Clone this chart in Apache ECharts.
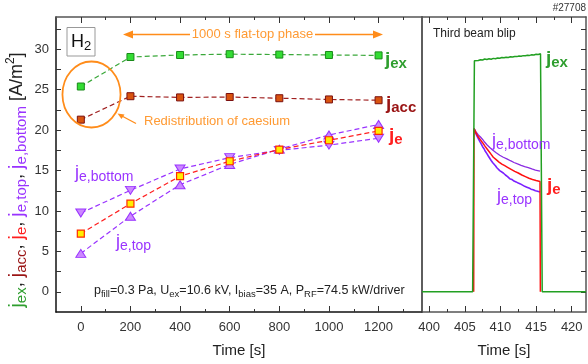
<!DOCTYPE html>
<html>
<head>
<meta charset="utf-8">
<script src="https://cdn.jsdelivr.net/npm/echarts@6/dist/echarts.min.js"></script>
<style>
  html, body { margin: 0; padding: 0; background: #fff; }
  #chart { width: 588px; height: 364px; }
</style>
</head>
<body>
<div id="chart"></div>
<script>
// left panel: 1000 s flat-top phase, one point every 200 s
const times = [0, 200, 400, 600, 800, 1000, 1200]
const jex = [25.4, 29.05, 29.3, 29.4, 29.35, 29.3, 29.25]
const jacc = [21.3, 24.2, 24.05, 24.1, 23.95, 23.8, 23.7]
const je = [7.2, 10.9, 14.3, 16.15, 17.6, 18.75, 19.9]
const jeTop = [4.75, 9.35, 13.25, 15.75, 17.65, 19.4, 20.7]
const jeBottom = [9.75, 12.55, 15.2, 16.6, 17.5, 18.15, 19.0]

// right panel: third beam blip, [time, value]
const blipJex = [[399, 0], [406.1, 0], [406.35, 28.6], [406.6, 28.7], [406.9, 28.62], [407.2, 28.72], [407.5, 28.68],
  [407.8, 28.8], [408.1, 28.74], [408.4, 28.83], [408.7, 28.78], [409, 28.88], [409.3, 28.84], [409.6, 28.93],
  [409.9, 28.9], [410.2, 28.98], [410.5, 28.95], [410.8, 29.03], [411.1, 29.0], [411.4, 29.08], [411.7, 29.05],
  [412, 29.12], [412.3, 29.1], [412.6, 29.17], [412.9, 29.14], [413.2, 29.22], [413.5, 29.2], [413.8, 29.27],
  [414.1, 29.25], [414.4, 29.33], [414.7, 29.3], [415, 29.38], [415.3, 29.36], [415.62, 29.45], [415.86, 0], [422, 0]]
const blipJe = [[406.25, 0], [406.3, 20.2], [406.6, 19.6], [406.9, 19.15], [407.2, 18.8], [407.5, 18.45], [407.8, 18.05],
  [408.1, 17.7], [408.4, 17.35], [408.7, 17.0], [409, 16.65], [409.4, 16.35], [409.8, 16.05], [410.2, 15.8], [410.6, 15.6],
  [411, 15.4], [411.5, 15.15], [412, 14.9], [412.5, 14.7], [413, 14.45], [413.5, 14.25], [414, 14.05], [414.5, 13.9],
  [415, 13.78], [415.55, 13.65], [415.6, 0]]
const blipJeTop = [[406.3, 20.2], [406.5, 19.7], [406.7, 19.3], [406.9, 18.95], [407.1, 18.6], [407.3, 18.3], [407.5, 17.95],
  [407.7, 17.7], [407.9, 17.35], [408.1, 17.1], [408.3, 16.8], [408.5, 16.6], [408.7, 16.25], [408.9, 16.0], [409.1, 15.8],
  [409.3, 15.6], [409.5, 15.35], [409.7, 15.25], [409.9, 15.0], [410.1, 14.9], [410.4, 14.7], [410.7, 14.45], [411, 14.25],
  [411.3, 14.0], [411.6, 13.9], [411.9, 13.7], [412.2, 13.6], [412.5, 13.45], [412.8, 13.35], [413.1, 13.2], [413.4, 13.05],
  [413.7, 12.95], [414, 12.85], [414.3, 12.7], [414.6, 12.62], [414.9, 12.5], [415.2, 12.45], [415.55, 12.35]]
const blipJeBottom = [[406.3, 20.2], [406.6, 19.75], [406.9, 19.4], [407.2, 19.15], [407.5, 18.85], [407.8, 18.5], [408.1, 18.2],
  [408.5, 17.85], [408.9, 17.55], [409.4, 17.2], [409.9, 16.9], [410.4, 16.65], [410.9, 16.45], [411.4, 16.22], [411.9, 16.0],
  [412.4, 15.82], [412.9, 15.65], [413.4, 15.5], [413.9, 15.37], [414.4, 15.2], [414.9, 15.05], [415.55, 14.92]]

// tick labels
const xTicksLeft = [0, 200, 400, 600, 800, 1000, 1200]
const xMinorLeft = [100, 300, 500, 700, 900, 1100, 1300]
const xTicksRight = [400, 405, 410, 415, 420]
const xMinorRight = [402.5, 407.5, 412.5, 417.5]
const yLabels = [0, 5, 10, 15, 20, 25, 30]
const yTicks = [0, 2.5, 5, 7.5, 10, 12.5, 15, 17.5, 20, 22.5, 25, 27.5, 30, 32.5]

const FONT = 'Liberation Sans, Arial, sans-serif'
const GREEN = '#2e9e2e', DARKRED = '#9a1414', RED = '#ff1f1f', PURPLE = '#9933ff', ORANGE = '#ff8c1a'
const FRAME = '#555'

const pairs = (ys) => times.map((t, i) => [t, ys[i]])

function xAx(grid, pos, min, max, ticks, len, labels, line) {
  return {
    type: 'value', gridIndex: grid, position: pos, min, max,
    axisLine: { show: line, onZero: false, lineStyle: { color: pos === 'bottom' && grid === 0 ? '#111' : FRAME, width: 1.5 } },
    axisTick: { show: true, inside: true, length: len, customValues: ticks, lineStyle: { color: '#333' } },
    axisLabel: labels
      ? { show: true, customValues: labels, formatter: v => String(v), fontSize: 13, color: '#333', margin: 9, fontFamily: FONT }
      : { show: false },
    splitLine: { show: false }
  }
}

function yAx(grid, pos, ticks, labels) {
  return {
    type: 'value', gridIndex: grid, position: pos, min: -2.5, max: 34,
    axisLine: { show: true, onZero: false, lineStyle: { color: pos === 'left' && grid === 0 ? '#111' : FRAME, width: 1.5 } },
    axisTick: ticks ? { show: true, inside: true, length: 5, customValues: ticks, lineStyle: { color: '#333' } } : { show: false },
    axisLabel: labels ? { show: true, customValues: labels, fontSize: 13, color: '#333', margin: 7, fontFamily: FONT } : { show: false },
    splitLine: { show: false }
  }
}

// rich text "j" with a subscript
function jRich(key, color, big, small, bold) {
  const w = bold ? 'bold' : 'normal'
  return {
    [key]: { fontSize: big, lineHeight: big + 4, fill: color, color, fontFamily: FONT, fontWeight: w },
    [key + 's']: { fontSize: small, lineHeight: small, fill: color, color, fontFamily: FONT, fontWeight: w, verticalAlign: 'bottom' }
  }
}

function jLabel(x, y, sub, color, big, small, bold) {
  return {
    type: 'text', x, y, z: 100,
    style: {
      text: '{a|j}{as|' + sub + '}', rich: jRich('a', color, big, small, bold),
      align: 'left', textAlign: 'left', verticalAlign: 'middle', textVerticalAlign: 'middle'
    }
  }
}

const yTitleRich = Object.assign({},
  jRich('g', GREEN, 20, 15), jRich('d', DARKRED, 20, 15), jRich('r', RED, 20, 15), jRich('p', PURPLE, 20, 15),
  {
    k: { fontSize: 18, lineHeight: 23, fill: '#222', fontFamily: FONT },
    sup: { fontSize: 12, lineHeight: 12, fill: '#222', fontFamily: FONT, verticalAlign: 'top' }
  })

const paramRich = {
  n: { fontSize: 12.5, lineHeight: 16, fill: '#222', fontFamily: FONT },
  s: { fontSize: 9.5, lineHeight: 9, fill: '#222', fontFamily: FONT, verticalAlign: 'bottom' }
}

const chart = echarts.init(document.getElementById('chart'))

chart.setOption({
  animation: false,
  textStyle: { fontFamily: FONT },
  grid: [
    { left: 56, top: 17, width: 366, height: 295 },
    { left: 422, top: 17, width: 164, height: 295 }
  ],
  xAxis: [
    Object.assign(xAx(0, 'bottom', -100, 1375, xTicksLeft, 6, xTicksLeft, true),
      { name: 'Time [s]', nameLocation: 'middle', nameGap: 31, nameTextStyle: { fontSize: 15, color: '#222', fontFamily: FONT } }),
    xAx(0, 'bottom', -100, 1375, xMinorLeft, 3, null, false),
    xAx(0, 'top', -100, 1375, xTicksLeft, 6, null, true),
    xAx(0, 'top', -100, 1375, xMinorLeft, 3, null, false),
    Object.assign(xAx(1, 'bottom', 399, 422, xTicksRight, 6, xTicksRight, true),
      { name: 'Time [s]', nameLocation: 'middle', nameGap: 31, nameTextStyle: { fontSize: 15, color: '#222', fontFamily: FONT } }),
    xAx(1, 'bottom', 399, 422, xMinorRight, 3, null, false),
    xAx(1, 'top', 399, 422, xTicksRight, 6, null, true),
    xAx(1, 'top', 399, 422, xMinorRight, 3, null, false)
  ],
  yAxis: [
    yAx(0, 'left', yTicks, yLabels),
    yAx(0, 'right', null, null),
    yAx(1, 'left', null, null),
    yAx(1, 'right', yTicks, null)
  ],
  series: [
    {
      name: 'jex', type: 'line', xAxisIndex: 0, yAxisIndex: 0, data: pairs(jex),
      symbol: 'rect', symbolSize: 7, z: 5,
      itemStyle: { color: '#33dd33', borderColor: '#1a8a1a', borderWidth: 1 },
      lineStyle: { color: '#3aa83a', type: [5, 3], width: 1.2 }
    },
    {
      name: 'jacc', type: 'line', xAxisIndex: 0, yAxisIndex: 0, data: pairs(jacc),
      symbol: 'rect', symbolSize: 7, z: 5,
      itemStyle: { color: '#d9540f', borderColor: '#7a1010', borderWidth: 1 },
      lineStyle: { color: '#a02020', type: [5, 3], width: 1.2 }
    },
    {
      name: 'je,top', type: 'line', xAxisIndex: 0, yAxisIndex: 0, data: pairs(jeTop),
      symbol: 'triangle', symbolSize: [10, 8], z: 4,
      itemStyle: { color: '#cc88ff', borderColor: PURPLE, borderWidth: 1 },
      lineStyle: { color: PURPLE, type: [5, 3], width: 1.2 }
    },
    {
      name: 'je,bottom', type: 'line', xAxisIndex: 0, yAxisIndex: 0, data: pairs(jeBottom),
      symbol: 'triangle', symbolRotate: 180, symbolSize: [10, 8], z: 4,
      itemStyle: { color: '#cc88ff', borderColor: PURPLE, borderWidth: 1 },
      lineStyle: { color: PURPLE, type: [5, 3], width: 1.2 }
    },
    {
      name: 'je', type: 'line', xAxisIndex: 0, yAxisIndex: 0, data: pairs(je),
      symbol: 'rect', symbolSize: 7, z: 6,
      itemStyle: { color: '#ffee00', borderColor: '#ff2a00', borderWidth: 1.2 },
      lineStyle: { color: RED, type: [5, 3], width: 1.2 }
    },
    {
      type: 'line', xAxisIndex: 4, yAxisIndex: 3, data: blipJeBottom, showSymbol: false, z: 3,
      lineStyle: { color: '#8a2be2', width: 1.3 }
    },
    {
      type: 'line', xAxisIndex: 4, yAxisIndex: 3, data: blipJeTop, showSymbol: false, z: 3,
      lineStyle: { color: '#7a1fff', width: 1.6 }
    },
    {
      type: 'line', xAxisIndex: 4, yAxisIndex: 3, data: blipJe, showSymbol: false, z: 4,
      lineStyle: { color: '#ff1010', width: 1.5 }
    },
    {
      type: 'line', xAxisIndex: 4, yAxisIndex: 3, data: blipJex, showSymbol: false, z: 5,
      lineStyle: { color: '#22a022', width: 1.5 }
    }
  ],
  graphic: [
    { type: 'text', x: 586, y: 8, style: { text: '#27708', fontSize: 10, fill: '#333', fontFamily: FONT, align: 'right', textAlign: 'right', verticalAlign: 'middle', textVerticalAlign: 'middle' } },
    // y axis title
    {
      type: 'text', x: 17, y: 180, rotation: Math.PI / 2,
      style: {
        text: '{g|j}{gs|ex}{k|, }{d|j}{ds|acc}{k|, }{r|j}{rs|e}{k|, }{p|j}{ps|e,top}{k|, }{p|j}{ps|e,bottom}{k| [A/m}{sup|2}{k|]}',
        rich: yTitleRich, align: 'center', textAlign: 'center', verticalAlign: 'middle', textVerticalAlign: 'middle'
      }
    },
    // H2 box
    { type: 'rect', shape: { x: 67, y: 27.5, width: 28, height: 28.5 }, style: { fill: '#fff', stroke: '#999', lineWidth: 1 }, z: 50 },
    {
      type: 'text', x: 81, y: 42, z: 51,
      style: {
        text: '{h|H}{s|2}', align: 'center', textAlign: 'center', verticalAlign: 'middle', textVerticalAlign: 'middle',
        rich: { h: { fontSize: 18, lineHeight: 22, fill: '#111', fontFamily: FONT }, s: { fontSize: 13, lineHeight: 13, fill: '#111', fontFamily: FONT, verticalAlign: 'bottom' } }
      }
    },
    // flat-top arrows
    { type: 'line', shape: { x1: 130, y1: 34.5, x2: 190, y2: 34.5 }, style: { stroke: ORANGE, lineWidth: 1.5 }, z: 50 },
    { type: 'polygon', shape: { points: [[123, 34.5], [133, 30.5], [133, 38.5]] }, style: { fill: ORANGE }, z: 50 },
    { type: 'line', shape: { x1: 315, y1: 34.5, x2: 376, y2: 34.5 }, style: { stroke: ORANGE, lineWidth: 1.5 }, z: 50 },
    { type: 'polygon', shape: { points: [[383, 34.5], [373, 30.5], [373, 38.5]] }, style: { fill: ORANGE }, z: 50 },
    { type: 'text', x: 252.5, y: 34.5, z: 50, style: { text: '1000 s flat-top phase', fontSize: 13, fill: '#ff9a33', fontFamily: FONT, align: 'center', textAlign: 'center', verticalAlign: 'middle', textVerticalAlign: 'middle' } },
    // caesium circle
    { type: 'circle', x: 91.5, y: 94.5, scaleX: 0.88, scaleY: 1, shape: { cx: 0, cy: 0, r: 33 }, style: { fill: 'none', stroke: ORANGE, lineWidth: 2 }, z: 50 },
    { type: 'line', shape: { x1: 136, y1: 123.5, x2: 121, y2: 115.5 }, style: { stroke: ORANGE, lineWidth: 1.2 }, z: 50 },
    { type: 'polygon', shape: { points: [[117.5, 113.5], [124.5, 114.5], [121.5, 119]] }, style: { fill: ORANGE }, z: 50 },
    { type: 'text', x: 144, y: 121, z: 50, style: { text: 'Redistribution of caesium', fontSize: 13, fill: '#ff9a33', fontFamily: FONT, align: 'left', textAlign: 'left', verticalAlign: 'middle', textVerticalAlign: 'middle' } },
    // curve labels, left panel
    jLabel(385, 60, 'ex', GREEN, 19, 15, true),
    jLabel(386, 104, 'acc', DARKRED, 19, 15, true),
    jLabel(389, 136, 'e', RED, 19, 15, true),
    jLabel(75, 173, 'e,bottom', PURPLE, 18, 14, false),
    jLabel(116, 242, 'e,top', PURPLE, 18, 14, false),
    // curve labels, right panel
    jLabel(546, 59, 'ex', GREEN, 19, 15, true),
    jLabel(492, 141, 'e,bottom', PURPLE, 18, 14, false),
    jLabel(547, 186, 'e', RED, 19, 15, true),
    jLabel(497, 196, 'e,top', PURPLE, 18, 14, false),
    { type: 'text', x: 433, y: 34, z: 50, style: { text: 'Third beam blip', fontSize: 12, fill: '#222', fontFamily: FONT, align: 'left', textAlign: 'left', verticalAlign: 'middle', textVerticalAlign: 'middle' } },
    // operating parameters
    {
      type: 'text', x: 94, y: 291, z: 50,
      style: {
        text: '{n|p}{s|fill}{n|=0.3 Pa, U}{s|ex}{n|=10.6 kV, I}{s|bias}{n|=35 A, P}{s|RF}{n|=74.5 kW/driver}',
        rich: paramRich, align: 'left', textAlign: 'left', verticalAlign: 'middle', textVerticalAlign: 'middle'
      }
    }
  ]
})
</script>
</body>
</html>
